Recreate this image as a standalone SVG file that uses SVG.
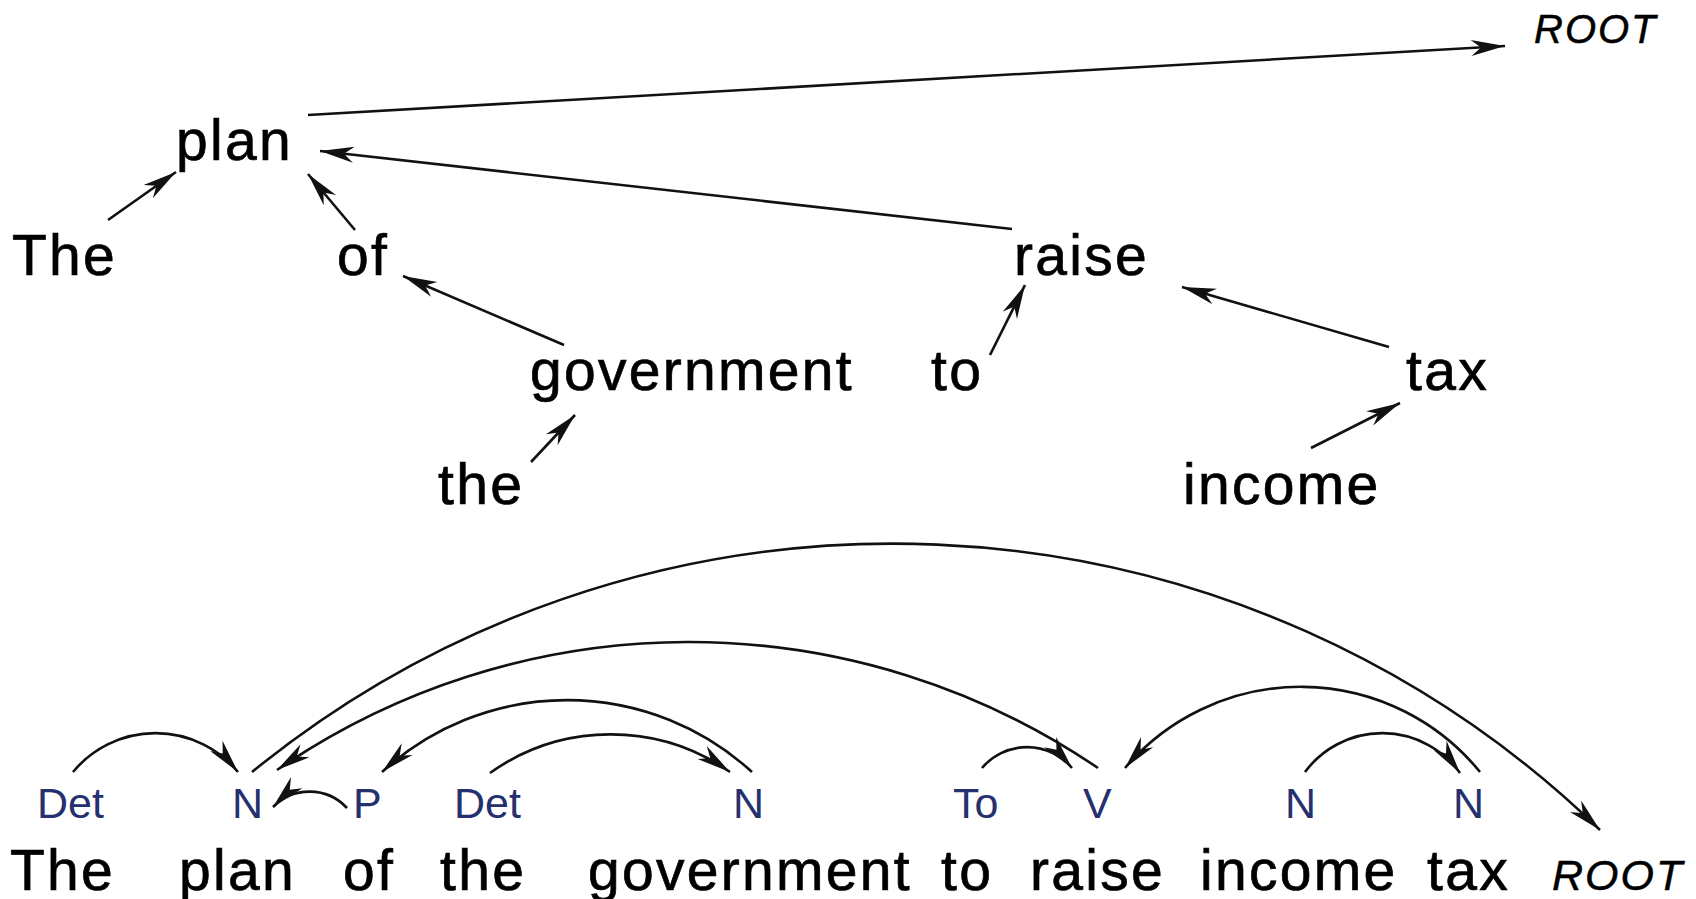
<svg xmlns="http://www.w3.org/2000/svg" width="1696" height="899" viewBox="0 0 1696 899">
<style>
.w{font-family:"Liberation Sans",Arial,sans-serif;font-size:57px;fill:#000;stroke:#000;stroke-width:0.7px;letter-spacing:2.3px}
.r{font-family:"Liberation Sans",Arial,sans-serif;font-style:italic;fill:#000;stroke:#000;stroke-width:0.5px;letter-spacing:2px}
.t{font-family:"Liberation Sans",Arial,sans-serif;font-size:43px;fill:#25306e}
.e{fill:none;stroke:#111;stroke-width:2.6;marker-end:url(#ah)}
</style>
<defs>
<marker id="ah" markerUnits="userSpaceOnUse" viewBox="-36 -10 38 20" refX="0" refY="0" markerWidth="38" markerHeight="20" orient="auto">
<path d="M0,0 L-34,-8 L-24,0 L-34,8 Z" fill="#111"/>
</marker>
</defs>
<rect width="1696" height="899" fill="#fff"/>
<g id="tree-nodes">
<g id="t-root"><text class="r" x="1534" y="43" font-size="40">ROOT</text></g>
<g id="t-plan"><text class="w" x="176" y="160">plan</text></g>
<g id="t-The"><text class="w" x="12" y="275">The</text></g>
<g id="t-of"><text class="w" x="337" y="275">of</text></g>
<g id="t-raise"><text class="w" x="1014" y="275">raise</text></g>
<g id="t-government"><text class="w" x="530" y="390">government</text></g>
<g id="t-to"><text class="w" x="931" y="390">to</text></g>
<g id="t-tax"><text class="w" x="1406" y="390">tax</text></g>
<g id="t-the"><text class="w" x="438" y="504">the</text></g>
<g id="t-income"><text class="w" x="1183" y="504">income</text></g>
</g>
<g id="tree-edges">
<line class="e" x1="308" y1="115" x2="1505" y2="46"/>
<line class="e" x1="1012" y1="229" x2="320" y2="151"/>
<line class="e" x1="108" y1="220" x2="176" y2="172"/>
<line class="e" x1="355" y1="230" x2="308" y2="174"/>
<line class="e" x1="564" y1="345" x2="403" y2="276"/>
<line class="e" x1="531" y1="462" x2="575" y2="415"/>
<line class="e" x1="990" y1="355" x2="1025" y2="285"/>
<line class="e" x1="1389" y1="347" x2="1182" y2="287"/>
<line class="e" x1="1311" y1="448" x2="1400" y2="403"/>
</g>
<g id="dep-tags">
<g id="tag-Det1"><text class="t" x="37" y="818">Det</text></g>
<g id="tag-N1"><text class="t" x="232" y="818">N</text></g>
<g id="tag-P"><text class="t" x="353" y="818">P</text></g>
<g id="tag-Det2"><text class="t" x="454" y="818">Det</text></g>
<g id="tag-N2"><text class="t" x="733" y="818">N</text></g>
<g id="tag-To"><text class="t" x="953" y="818">To</text></g>
<g id="tag-V"><text class="t" x="1083" y="818">V</text></g>
<g id="tag-N3"><text class="t" x="1285" y="818">N</text></g>
<g id="tag-N4"><text class="t" x="1453" y="818">N</text></g>
</g>
<g id="dep-words">
<g id="w-The"><text class="w" x="10" y="890">The</text></g>
<g id="w-plan"><text class="w" x="179" y="890">plan</text></g>
<g id="w-of"><text class="w" x="343" y="890">of</text></g>
<g id="w-the"><text class="w" x="440" y="890">the</text></g>
<g id="w-government"><text class="w" x="588" y="890">government</text></g>
<g id="w-to"><text class="w" x="941" y="890">to</text></g>
<g id="w-raise"><text class="w" x="1030" y="890">raise</text></g>
<g id="w-income"><text class="w" x="1200" y="890">income</text></g>
<g id="w-tax"><text class="w" x="1427" y="890">tax</text></g>
<g id="w-root"><text class="r" x="1552" y="890" font-size="43">ROOT</text></g>
</g>
<g id="dep-arcs">
<path class="e" d="M73,772 A107,107 0 0 1 238,772"/>
<path class="e" d="M347,808 A51,51 0 0 0 273,807"/>
<path class="e" d="M490,773 A208,208 0 0 1 730,772"/>
<path class="e" d="M752,772 A274,274 0 0 0 382,772"/>
<path class="e" d="M1098,768 A727,727 0 0 0 277,770"/>
<path class="e" d="M252,772 A1015,1015 0 0 1 1600,830"/>
<path class="e" d="M982,768 A59,59 0 0 1 1072,768"/>
<path class="e" d="M1480,772 A231,231 0 0 0 1125,768"/>
<path class="e" d="M1305,772 A96,96 0 0 1 1460,773"/>
</g>
</svg>
